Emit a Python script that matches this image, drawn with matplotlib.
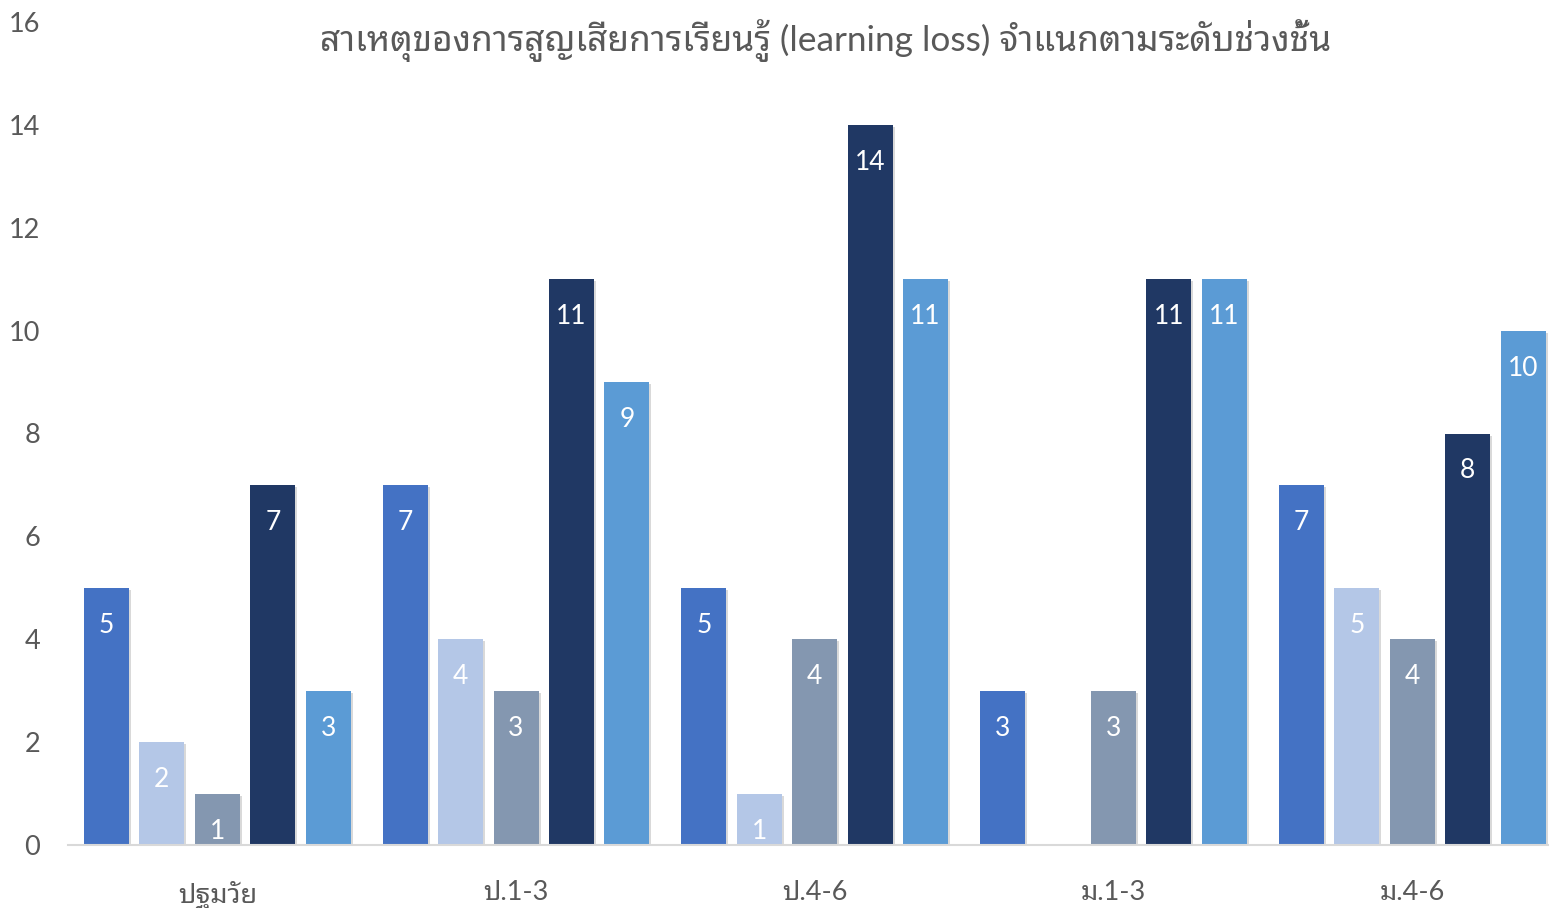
import numpy as np
import matplotlib
matplotlib.use("Agg")
import matplotlib.pyplot as plt
import matplotlib.patheffects as pe

# data
groups = ["ปฐมวัย", "ป.1-3", "ป.4-6", "ม.1-3", "ม.4-6"]
s1 = [5, 7, 5, 3, 7]
s2 = [2, 4, 1, 0, 5]
s3 = [1, 3, 4, 3, 4]
s4 = [7, 11, 14, 11, 8]
s5 = [3, 9, 11, 11, 10]
series = [s1, s2, s3, s4, s5]
colors = ["#4472C4", "#B4C7E7", "#8497B0", "#203864", "#5B9BD5"]
yticks = [0, 2, 4, 6, 8, 10, 12, 14, 16]
title = "สาเหตุของการสูญเสียการเรียนรู้ (learning loss) จำแนกตามระดับช่วงชั้น"

fonts = ["Lato", "Noto Sans Thai Looped", "DejaVu Sans"]
plt.rcParams["font.family"] = fonts
grey = "#595959"

fig = plt.figure(figsize=(15.49, 9.08), dpi=100)
ax = fig.add_axes([68 / 1549, 1 - 845 / 908, (1561.5 - 68) / 1549, (845 - 22) / 908])

x = np.arange(len(groups))
step = 0.1856
width = 0.1505
shadow = [pe.SimplePatchShadow(offset=(1.5, -1.5), shadow_rgbFace="#000000", alpha=0.15), pe.Normal()]

for i, vals in enumerate(series):
    pos = x + (i - 2) * step
    bars = ax.bar(pos, vals, width=width, color=colors[i], zorder=3)
    for b, v in zip(bars, vals):
        if v == 0:
            b.set_visible(False)
            continue
        b.set_path_effects(shadow)
        ax.annotate(str(v), (b.get_x() + b.get_width() / 2, v), xytext=(0, -27),
                    textcoords="offset points", ha="center", va="center",
                    color="white", fontsize=19, zorder=4)

ax.set_xlim(-0.5, 4.5)
ax.set_ylim(0, 16)
ax.set_yticks(yticks)
ax.set_xticks(x)
ax.set_xticklabels(groups)
ax.tick_params(axis="both", length=0, labelsize=19.5, labelcolor=grey)
ax.tick_params(axis="y", pad=20)
ax.tick_params(axis="x", pad=25)
for sp in ["top", "right", "left"]:
    ax.spines[sp].set_visible(False)
ax.spines["bottom"].set_color("#D9D9D9")
ax.spines["bottom"].set_linewidth(1.5)
ax.spines["bottom"].set_zorder(5)

fig.text(826 / 1549, 1 - 41 / 908, title, ha="center", va="center", fontsize=25.4, color=grey)

fig.savefig("out.png", dpi=100)
